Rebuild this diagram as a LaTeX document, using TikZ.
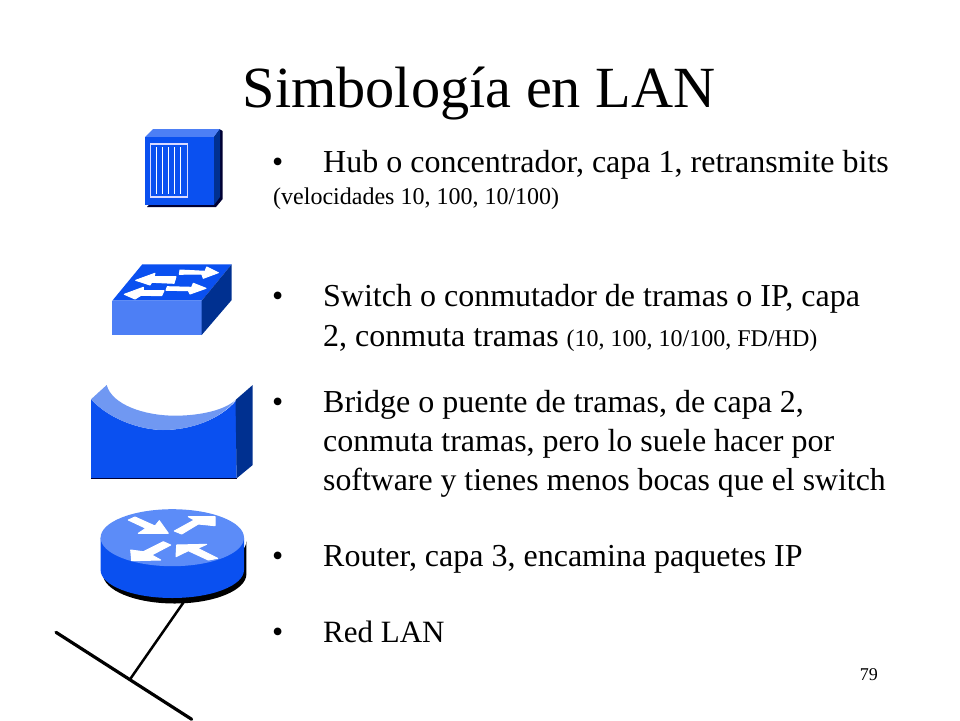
\documentclass[tikz,border=0pt]{standalone}
\usepackage{fontspec}
\setmainfont{Liberation Serif}
\usepackage{xcolor}
\definecolor{bluefront}{HTML}{0A50F0}
\definecolor{bluelight}{HTML}{4D7FF5}
\definecolor{bluepale}{HTML}{7098F2}
\definecolor{bluedark}{HTML}{003090}
\definecolor{bluetop}{HTML}{5C8CF8}
\tikzset{bullet/.style={anchor=base west,inner sep=0pt,font=\fontsize{32}{32}\selectfont},
 textline/.style={anchor=base west,inner sep=0pt,font=\fontsize{32}{32}\selectfont},
 smalltext/.style={anchor=base west,inner sep=0pt,font=\fontsize{24}{24}\selectfont},
 glyph/.style={fill=white,draw=white,line width=1pt,line join=round},
 cable/.style={draw=black,line cap=round},
 }

\begin{document}
\begin{tikzpicture}[x=1pt,y=-1pt]
        \useasboundingbox (0,0) rectangle (960,720);
        % hub
        \fill[black!80!blue] (147,207) -- (216,207) -- (222.7,199) -- (222.7,131) -- (219,129) -- (214,137) -- cycle;
        \fill[bluelight] (145,137) -- (153,129) -- (220,129) -- (214,137) -- cycle;
        \fill[bluedark] (214,137) -- (220,129) -- (220,197) -- (214,205) -- cycle;
        \fill[bluefront] (145,137) rectangle (214,205);
        \draw[white!85!blue,line width=1.3pt] (150.7,144) rectangle (187.3,197);
        \foreach \x in {156.7,162.7,168.3,174.3,180.3}
            \draw[white,line width=1.1pt] (\x,147) -- (\x,194);
        % switch
        \fill[bluefront] (112.3,300.7) -- (142.3,264.3) -- (231.7,264.3) -- (201.7,300.7) -- cycle;
        \fill[bluelight] (112.3,300.7) rectangle (201.7,335);
        \fill[bluedark] (201.7,300.7) -- (231.7,264.3) -- (231.7,300) -- (201.7,335) -- cycle;
        \filldraw[glyph] (180,270) -- (205,271.3) -- (206.7,267) -- (218.3,272.7) -- (203.3,278.3) -- (201.7,274) -- (179.3,274.3) -- cycle;
        \filldraw[glyph] (135.7,280.3) -- (155,273.3) -- (154,276.7) -- (176,276.7) -- (174,283.3) -- (151.7,282.3) -- (150,285) -- cycle;
        \filldraw[glyph] (124.3,294.3) -- (143.3,287.3) -- (143.3,290.7) -- (164,290.7) -- (161.7,295.7) -- (141,295.3) -- (135,299) -- cycle;
        \filldraw[glyph] (167.3,286.7) -- (191.7,287.3) -- (193.3,283.3) -- (206,288.3) -- (190,294) -- (188.3,290.7) -- (166,290.3) -- cycle;
        % bridge
        \fill[bluefront] (91,399.3) .. controls (112,422) and (145,430) .. (163,430) .. controls (190,430) and (220,420) .. (236.7,400) -- (236.7,478.3) -- (91,478.3) -- cycle;
        \fill[bluepale] (91,399.3) -- (106.7,385) .. controls (112,405) and (145,415.7) .. (175,415.7) .. controls (200,415.7) and (225,410) .. (235.5,400) .. controls (220,420) and (190,430) .. (163,430) .. controls (145,430) and (112,422) .. (91,399.3) -- cycle;
        \fill[bluedark] (235.5,400) -- (252.7,385) -- (252.7,465) -- (236.7,478.3) -- cycle;
        \draw[black!80!blue,line width=.8pt] (91,478.6) -- (236.7,478.6);
        % router
        \fill[black] (103,541) arc[start angle=180,end angle=0,x radius=71.7,y radius=28.5] -- (246.4,574) arc[start angle=0,end angle=180,x radius=71.7,y radius=29.5] -- cycle;
        \fill[bluefront] (100.6,537.7) -- (244,537.7) -- (244,570) arc[start angle=0,end angle=180,x radius=71.7,y radius=28] -- cycle;
        \fill[bluetop] (172.3,537.7) ellipse[x radius=71.7,y radius=28.5];
        \filldraw[glyph] (128.3,520) -- (135,517) -- (155,526) -- (159.3,520.7) -- (168.3,533.3) -- (138.3,533.3) -- (146,528.3) -- cycle;
        \filldraw[glyph] (174.3,531) -- (194.3,520) -- (188.3,516.7) -- (215,516.7) -- (215,525.7) -- (198.3,524) -- (181.7,534) -- cycle;
        \filldraw[glyph] (163.3,541.7) -- (170.7,545) -- (151.7,555) -- (160.7,560) -- (131.7,560.7) -- (130.7,550) -- (143.3,551.7) -- cycle;
        \filldraw[glyph] (176,556.7) -- (176.7,545) -- (206.7,544.3) -- (197.7,548.3) -- (217.7,558.3) -- (208.3,560) -- (188.3,550.7) -- cycle;
        % cables
        \coordinate (routerbase) at (183.3,602.7);
        \coordinate (tap) at (130.7,678.3);
        \coordinate (lanleft) at (56,632.3);
        \coordinate (lanright) at (191.7,719.3);
        \draw[cable,line width=2.5pt] (routerbase) -- (tap);
        \draw[cable,line width=3.2pt] (lanleft) -- (lanright);
        % text
        \node[anchor=base,inner sep=0pt,font=\fontsize{58.3}{60}\selectfont] (title) at (479,107.5) {Simbología en LAN};
        \node[bullet] (bhub) at (272,172.5) {•};
        \node[textline] (hub) at (323,172.5) {Hub o concentrador, capa 1, retransmite bits};
        \node[smalltext] (hubsub) at (273,204) {(velocidades 10, 100, 10/100)};
        \node[bullet] (bswitch) at (272,306.5) {•};
        \node[textline] (switcha) at (323,306.5) {Switch o conmutador de tramas o IP, capa};
        \node[textline] (switchb) at (323,346.5) {2, conmuta tramas {\fontsize{24}{24}\selectfont (10, 100, 10/100, FD/HD)}};
        \node[bullet] (bbridge) at (272,412.5) {•};
        \node[textline] (bridgea) at (323,412.5) {Bridge o puente de tramas, de capa 2,};
        \node[textline] (bridgeb) at (323,451.5) {conmuta tramas, pero lo suele hacer por};
        \node[textline,font=\fontsize{31.8}{32}\selectfont] (bridgec) at (323,490.5) {software y tienes menos bocas que el switch};
        \node[bullet] (brouter) at (272,566.5) {•};
        \node[textline] (router) at (323,566.5) {Router, capa 3, encamina paquetes IP};
        \node[bullet] (blan) at (272,642.5) {•};
        \node[textline,font=\fontsize{31}{32}\selectfont] (lan) at (323,642.5) {Red LAN};
        \node[anchor=base east,inner sep=0pt,font=\fontsize{18}{18}\selectfont] (page) at (878,680) {79};
    \end{tikzpicture}
\end{document}
